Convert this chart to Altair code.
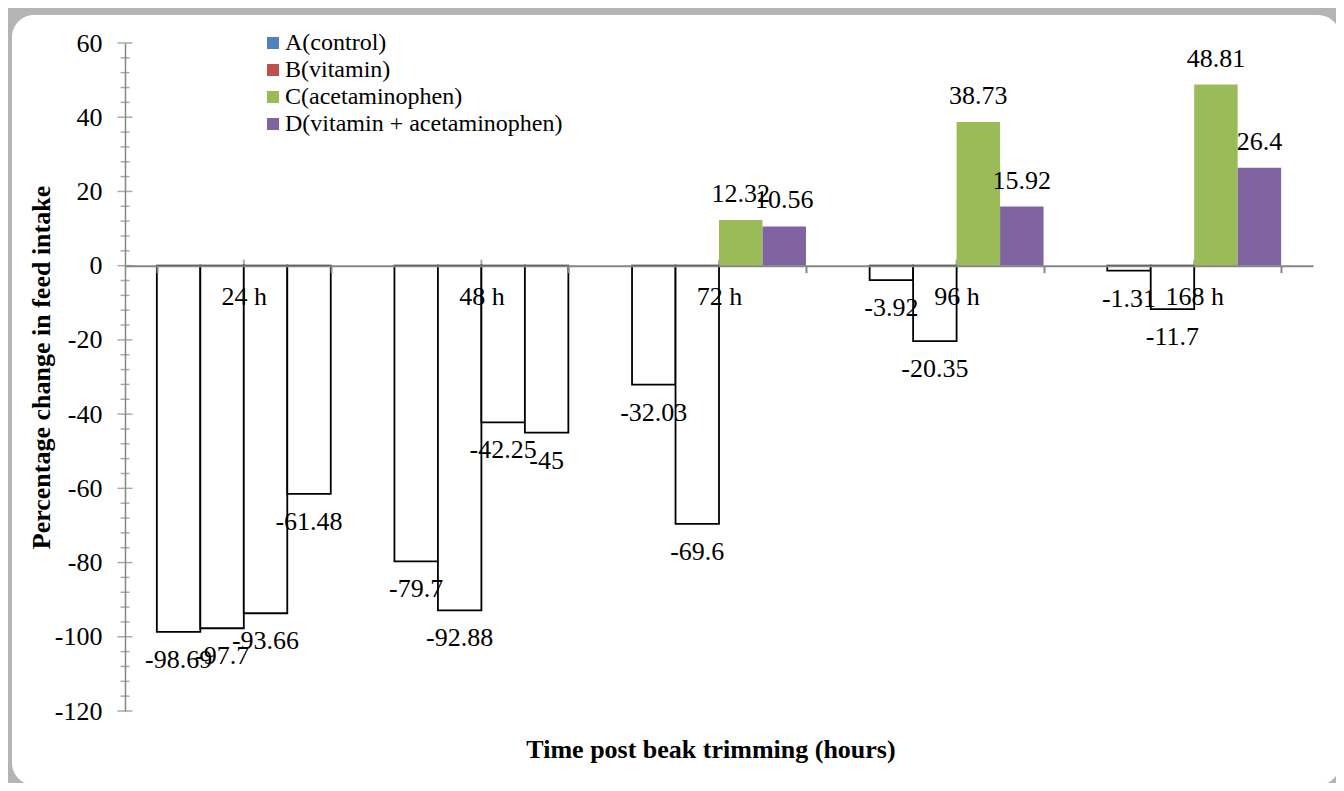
import altair as alt
import pandas as pd

# ---------------- data ----------------
categories = ["24 h", "48 h", "72 h", "96 h", "168 h"]
series_names = ["A(control)", "B(vitamin)", "C(acetaminophen)", "D(vitamin + acetaminophen)"]
series_colors = ["#4F81BD", "#C0504D", "#9BBB59", "#8064A2"]
values_A = [-98.69, -79.7, -32.03, -3.92, -1.31]
values_B = [-97.7, -92.88, -69.6, -20.35, -11.7]
values_C = [-93.66, -42.25, 12.32, 38.73, 48.81]
values_D = [-61.48, -45, 10.56, 15.92, 26.4]
y_major_ticks = [-120, -100, -80, -60, -40, -20, 0, 20, 40, 60]
y_minor_ticks = [v for v in range(-120, 61, 4) if v % 20 != 0]

rows = []
for s, vals in zip(series_names, [values_A, values_B, values_C, values_D]):
    for c, v in zip(categories, vals):
        rows.append({"time": c, "series": s, "value": v, "label": f"{v:g}"})
df = pd.DataFrame(rows)
df_cat = pd.DataFrame({"time": categories, "value": [0] * len(categories)})
df_major = pd.DataFrame({"value": y_major_ticks})
df_minor = pd.DataFrame({"value": y_minor_ticks})
df_frame = pd.DataFrame({"d": [0]})

# ---------------- style ----------------
FONT = "Liberation Serif"
AXIS_GRAY = "#868686"
W, H = 1188, 668
Y_MIN, Y_MAX = -120, 60
zero_px = H * Y_MAX / (Y_MAX - Y_MIN)
x_axis_offset = zero_px - H

x_enc = alt.X(
    "time:N",
    sort=categories,
    scale=alt.Scale(domain=categories, paddingInner=0.268, paddingOuter=0.134),
    axis=alt.Axis(
        title=None, offset=x_axis_offset, domainColor=AXIS_GRAY, domainWidth=2,
        ticks=True, tickBand="extent", tickColor=AXIS_GRAY, tickWidth=2, tickSize=7,
        labelFont=FONT, labelFontSize=26, labelColor="black", labelAngle=0,
        labelPadding=11, labelOverlap=False, grid=False, zindex=1,
    ),
)
y_enc = alt.Y(
    "value:Q",
    scale=alt.Scale(domain=[Y_MIN, Y_MAX], nice=False, zero=False),
    axis=alt.Axis(
        title="Percentage change in feed intake", titleFont=FONT, titleFontSize=26,
        titleFontWeight="bold", titleColor="black", titlePadding=0, titleY=324,
        values=y_major_ticks, labelExpr="toString(datum.value)",
        labelFont=FONT, labelFontSize=26, labelColor="black", labelPadding=23,
        ticks=False, domainColor=AXIS_GRAY, domainWidth=1.5, grid=False, zindex=1,
    ),
)
xoff = alt.XOffset("series:N", scale=alt.Scale(domain=series_names, paddingInner=0, paddingOuter=0))

frame = alt.Chart(df_frame).mark_rect(fill="white", cornerRadius=22).encode(
    x=alt.value(-113), x2=alt.value(1215), y=alt.value(-28), y2=alt.value(742)
)

center_ticks = alt.Chart(df_cat).mark_tick(
    orient="vertical", color=AXIS_GRAY, thickness=2, size=12
).encode(x=x_enc, y=y_enc)

major_ticks = alt.Chart(df_major).mark_tick(
    orient="horizontal", color=AXIS_GRAY, thickness=1.5, size=15
).encode(x=alt.value(0), y=y_enc)

minor_ticks = alt.Chart(df_minor).mark_tick(
    orient="horizontal", color=AXIS_GRAY, thickness=1.5, size=9
).encode(x=alt.value(0), y=y_enc)

neg_bars = alt.Chart(df).transform_filter("datum.value < 0").mark_bar(
    fill="white", stroke="black", strokeWidth=1.8
).encode(x=x_enc, xOffset=xoff, y=y_enc)

pos_bars = alt.Chart(df).transform_filter("datum.value > 0").mark_bar(strokeWidth=0).encode(
    x=x_enc, xOffset=xoff, y=y_enc,
    color=alt.Color(
        "series:N",
        scale=alt.Scale(domain=series_names, range=series_colors),
        legend=alt.Legend(
            title=None, orient="none", legendX=136, legendY=-12, direction="vertical",
            symbolType="square", symbolSize=144, symbolStrokeWidth=0, symbolOpacity=1,
            labelFont=FONT, labelFontSize=24, labelColor="black", labelLimit=0,
            rowPadding=3, padding=0, labelOffset=0, zindex=1,
        ),
    ),
)

pos_labels = alt.Chart(df).transform_filter("datum.value > 0").mark_text(
    font=FONT, fontSize=26, color="black", baseline="middle", dy=-26
).encode(x=x_enc, xOffset=xoff, y=y_enc, text="label:N")

neg_labels = alt.Chart(df).transform_filter("datum.value < 0").mark_text(
    font=FONT, fontSize=26, color="black", baseline="middle", dy=28
).encode(x=x_enc, xOffset=xoff, y=y_enc, text="label:N")

chart = alt.layer(
    frame, center_ticks, major_ticks, minor_ticks, neg_bars, pos_bars, pos_labels, neg_labels
).properties(
    width=W,
    height=H,
    autosize=alt.AutoSizeParams(type="none"),
    padding={"left": 117, "top": 35, "right": 23, "bottom": 72},
    background="#b4b4b4",
    title=alt.Title(
        "Time post beak trimming (hours)", orient="bottom", anchor="middle",
        font=FONT, fontSize=26, fontWeight="bold", color="black", offset=-48, dx=-8, zindex=1,
    ),
).configure_view(strokeWidth=0)

chart.save("out.html", embed_options={"renderer": "svg", "actions": False})
